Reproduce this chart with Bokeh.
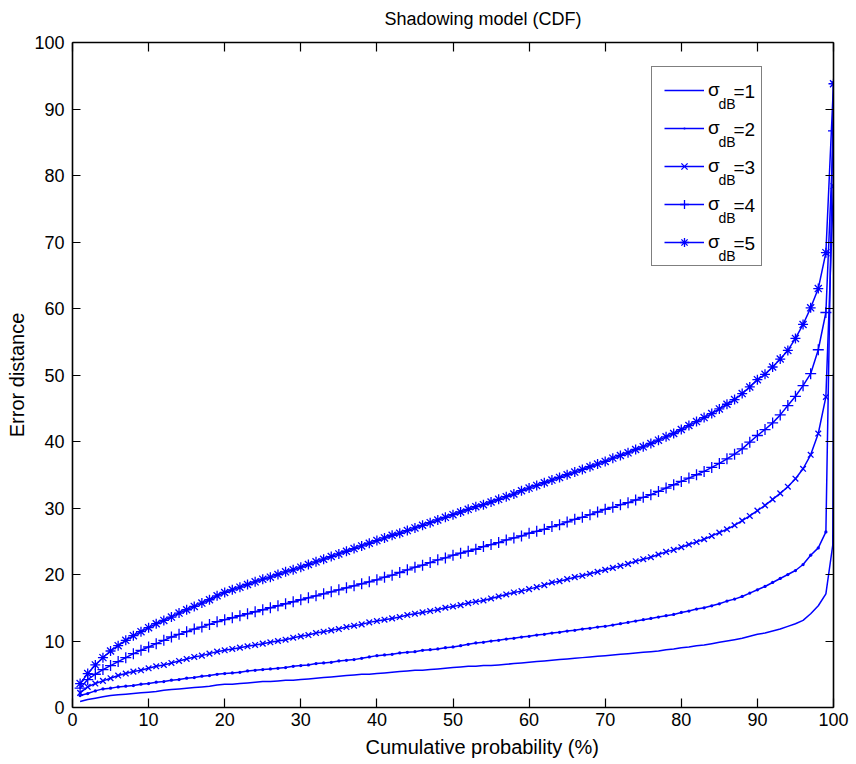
from bokeh.plotting import figure
from bokeh.models import (Range1d, LinearAxis, FixedTicker, Legend, LegendItem,
                          Title, CustomLabelingPolicy, ColumnDataSource)
from bokeh.core.properties import value
from bokeh.embed import file_html
from bokeh.resources import INLINE

# ---------------- data ----------------
cdf_pct = list(range(1, 101))                       # cumulative probability (%)
sigma1_pct = list(range(1, 100)) + [99.9, 100]      # sigma_dB = 1 has one extra point at the top end

err_sigma1 = [0.9, 1.2, 1.4, 1.6, 1.8, 1.9, 2.0, 2.1, 2.2, 2.3,
              2.4, 2.6, 2.7, 2.8, 2.9, 3.0, 3.1, 3.2, 3.4, 3.5,
              3.5, 3.6, 3.7, 3.8, 3.9, 3.9, 4.0, 4.1, 4.1, 4.2,
              4.3, 4.4, 4.5, 4.6, 4.7, 4.8, 4.9, 5.0, 5.0, 5.1,
              5.2, 5.3, 5.4, 5.5, 5.6, 5.6, 5.7, 5.8, 5.9, 6.0,
              6.1, 6.2, 6.2, 6.3, 6.3, 6.4, 6.5, 6.6, 6.7, 6.8,
              6.9, 7.0, 7.1, 7.2, 7.3, 7.4, 7.5, 7.6, 7.7, 7.8,
              7.9, 8.0, 8.1, 8.2, 8.3, 8.4, 8.5, 8.7, 8.8, 9.0,
              9.1, 9.3, 9.4, 9.6, 9.8, 10.0, 10.2, 10.4, 10.7, 11.0,
              11.2, 11.5, 11.8, 12.2, 12.6, 13.1, 14.1, 15.3, 17.1,
              24.4, 50.2]

err_sigma2 = [1.8, 2.1, 2.5, 2.8, 2.9, 3.1, 3.2, 3.3, 3.5, 3.6,
              3.8, 3.9, 4.1, 4.2, 4.4, 4.5, 4.7, 4.8, 5.0, 5.1,
              5.2, 5.3, 5.5, 5.6, 5.7, 5.8, 5.9, 6.0, 6.2, 6.3,
              6.4, 6.6, 6.7, 6.8, 7.0, 7.1, 7.2, 7.4, 7.6, 7.8,
              7.9, 8.0, 8.2, 8.3, 8.4, 8.6, 8.7, 8.8, 9.0, 9.1,
              9.3, 9.5, 9.7, 9.8, 10.0, 10.1, 10.3, 10.4, 10.6, 10.7,
              10.9, 11.0, 11.2, 11.3, 11.5, 11.6, 11.8, 11.9, 12.1, 12.2,
              12.4, 12.6, 12.8, 13.0, 13.2, 13.4, 13.6, 13.8, 14.0, 14.3,
              14.5, 14.8, 15.0, 15.3, 15.6, 16.0, 16.3, 16.7, 17.2, 17.7,
              18.2, 18.8, 19.4, 20.0, 20.6, 21.5, 22.9, 24.0, 26.4, 94.0]

err_sigma3 = [2.2, 3.1, 3.6, 4.0, 4.4, 4.8, 5.1, 5.4, 5.6, 5.9,
              6.2, 6.4, 6.7, 7.0, 7.3, 7.6, 7.8, 8.1, 8.4, 8.6,
              8.8, 9.0, 9.2, 9.4, 9.6, 9.8, 10.0, 10.2, 10.5, 10.7,
              10.9, 11.2, 11.4, 11.6, 11.8, 12.1, 12.3, 12.5, 12.8, 13.0,
              13.2, 13.4, 13.6, 13.9, 14.1, 14.3, 14.5, 14.7, 15.0, 15.2,
              15.4, 15.7, 15.9, 16.1, 16.4, 16.7, 17.0, 17.3, 17.5, 17.8,
              18.1, 18.4, 18.8, 19.0, 19.3, 19.6, 19.8, 20.1, 20.4, 20.7,
              21.0, 21.3, 21.6, 22.0, 22.3, 22.6, 23.0, 23.4, 23.7, 24.1,
              24.5, 24.9, 25.3, 25.8, 26.3, 26.8, 27.4, 28.1, 28.8, 29.6,
              30.4, 31.3, 32.2, 33.2, 34.4, 35.9, 38.0, 41.2, 46.7, 78.4]

err_sigma4 = [2.9, 4.2, 5.0, 5.7, 6.3, 6.9, 7.5, 8.1, 8.6, 9.1,
              9.6, 10.1, 10.6, 11.0, 11.4, 11.8, 12.1, 12.5, 12.9, 13.2,
              13.5, 13.8, 14.1, 14.4, 14.7, 15.0, 15.3, 15.6, 15.9, 16.2,
              16.5, 16.8, 17.1, 17.4, 17.7, 18.0, 18.3, 18.6, 18.9, 19.2,
              19.6, 19.9, 20.3, 20.7, 21.1, 21.4, 21.8, 22.2, 22.5, 22.9,
              23.2, 23.5, 23.8, 24.2, 24.5, 24.8, 25.2, 25.5, 25.8, 26.2,
              26.5, 26.8, 27.2, 27.5, 27.9, 28.3, 28.6, 29.0, 29.4, 29.8,
              30.1, 30.5, 30.8, 31.2, 31.6, 32.0, 32.5, 33.0, 33.5, 34.0,
              34.5, 35.0, 35.5, 36.1, 36.7, 37.4, 38.1, 38.9, 39.9, 40.9,
              41.8, 42.8, 44.0, 45.4, 46.8, 48.4, 50.2, 53.8, 59.4, 86.7]

err_sigma5 = [3.6, 5.1, 6.4, 7.5, 8.5, 9.3, 10.1, 10.8, 11.4, 12.0,
              12.6, 13.1, 13.6, 14.2, 14.7, 15.2, 15.7, 16.2, 16.8, 17.3,
              17.7, 18.1, 18.5, 18.9, 19.3, 19.6, 20.0, 20.4, 20.7, 21.1,
              21.5, 21.9, 22.3, 22.7, 23.1, 23.5, 23.9, 24.3, 24.7, 25.1,
              25.5, 25.9, 26.2, 26.6, 27.0, 27.4, 27.8, 28.2, 28.6, 29.0,
              29.4, 29.8, 30.2, 30.5, 30.9, 31.3, 31.7, 32.1, 32.6, 33.0,
              33.4, 33.8, 34.2, 34.6, 35.0, 35.4, 35.8, 36.2, 36.6, 37.0,
              37.5, 37.9, 38.3, 38.8, 39.2, 39.7, 40.2, 40.7, 41.2, 41.8,
              42.4, 43.0, 43.6, 44.2, 44.9, 45.6, 46.3, 47.2, 48.2, 49.3,
              50.1, 51.2, 52.4, 53.7, 55.5, 57.6, 60.1, 63.0, 68.4, 93.8]

sigma_values = ["1", "2", "3", "4", "5"]
x_ticks = [0, 10, 20, 30, 40, 50, 60, 70, 80, 90, 100]
y_ticks = [0, 10, 20, 30, 40, 50, 60, 70, 80, 90, 100]

# ---------------- styling ----------------
FONT = "Liberation Sans"
BLUE = "#0000ff"
FRAME_W, FRAME_H = 761, 665

p = figure(frame_width=FRAME_W, frame_height=FRAME_H,
           x_range=Range1d(0, 100), y_range=Range1d(0, 100),
           output_backend="svg", toolbar_location=None,
           min_border_left=72, min_border_right=23,
           min_border_top=42, min_border_bottom=57,
           background_fill_color="white", border_fill_color="white")
p.outline_line_color = None
p.grid.visible = False

p.title.text = "Shadowing model (CDF)"
p.title.align = "left"
p.title.offset = 312
p.title.vertical_align = "top"
p.title.text_font = FONT
p.title.text_font_size = "18px"
p.title.text_font_style = "normal"
p.title.text_color = "black"
p.title.standoff = 16

no_labels = CustomLabelingPolicy(code="return new Set()")


def style_axis(ax, ticks, show_labels):
    ax.ticker = FixedTicker(ticks=ticks)
    ax.axis_line_color = "black"
    ax.axis_line_width = 1.6
    ax.major_tick_line_color = "black"
    ax.major_tick_line_width = 1.2
    ax.major_tick_out = 0
    ax.minor_tick_in = 0
    ax.minor_tick_out = 0
    ax.major_label_text_font = FONT
    ax.major_label_text_color = "black"
    if show_labels:
        ax.major_label_text_font_size = "18px"
    else:
        ax.major_label_text_font_size = "1px"
        ax.major_label_standoff = 0
        ax.major_label_policy = no_labels


xa = p.xaxis[0]
style_axis(xa, x_ticks, True)
xa.major_tick_in = 9
xa.major_label_standoff = 5

ya = p.yaxis[0]
style_axis(ya, y_ticks, True)
ya.major_tick_in = 8
ya.major_label_standoff = 8
ya.axis_label = "Error distance"
ya.axis_label_text_font = FONT
ya.axis_label_text_font_size = "20px"
ya.axis_label_text_font_style = "normal"
ya.axis_label_text_color = "black"
ya.axis_label_standoff = 3

top_ax = LinearAxis()
style_axis(top_ax, x_ticks, False)
top_ax.major_tick_in = 9
p.add_layout(top_ax, "above")

right_ax = LinearAxis()
style_axis(right_ax, y_ticks, False)
right_ax.major_tick_in = 8
p.add_layout(right_ax, "right")

xlabel = Title(text="Cumulative probability (%)", align="left", offset=293,
               text_font=FONT, text_font_size="20px", text_font_style="normal",
               text_color="black", standoff=10)
p.add_layout(xlabel, "below")

# ---------------- series ----------------
LW = 1.5
l1 = p.line(sigma1_pct, err_sigma1, line_color=BLUE, line_width=LW)

l2 = p.line(cdf_pct, err_sigma2, line_color=BLUE, line_width=LW)
m2 = p.scatter(cdf_pct, err_sigma2, marker="dot", size=13, line_color=BLUE,
               fill_color=BLUE)

l3 = p.line(cdf_pct, err_sigma3, line_color=BLUE, line_width=LW)
m3 = p.scatter(cdf_pct, err_sigma3, marker="x", size=8, line_color=BLUE,
               line_width=1.3)

l4 = p.line(cdf_pct, err_sigma4, line_color=BLUE, line_width=LW)
m4 = p.scatter(cdf_pct, err_sigma4, marker="cross", size=11, line_color=BLUE,
               line_width=1.3)

l5 = p.line(cdf_pct, err_sigma5, line_color=BLUE, line_width=LW)
m5 = p.scatter(cdf_pct, err_sigma5, marker="asterisk", size=10, line_color=BLUE,
               line_width=1.3)

renderer_sets = [[l1], [l2, m2], [l3, m3], [l4, m4], [l5, m5]]

legend = Legend(items=[LegendItem(label="σ", renderers=rs) for rs in renderer_sets],
                location=(579, 441), orientation="vertical",
                border_line_color="black", border_line_width=1.5,
                background_fill_color="white", background_fill_alpha=0.0,
                label_text_font=FONT, label_text_font_size="19px",
                label_text_color="black",
                glyph_width=40, glyph_height=22, label_height=22,
                label_width=41, label_standoff=4, spacing=16, padding=12,
                margin=0)
p.add_layout(legend)

# subscript "dB" and "=n" parts of the legend texts (sigma_dB = n)
px_x = 100 / FRAME_W
px_y = 100 / FRAME_H
row_mid = [100 - (49 + 38 * i) * px_y for i in range(len(sigma_values))]
sub_src = ColumnDataSource(dict(x=[646 * px_x] * len(sigma_values),
                                y=[m - 12 * px_y for m in row_mid],
                                text=["dB"] * len(sigma_values)))
eq_src = ColumnDataSource(dict(x=[661 * px_x] * len(sigma_values),
                               y=row_mid,
                               text=["=" + s for s in sigma_values]))
p.text(x="x", y="y", text="text", source=sub_src,
       text_font=value(FONT), text_font_size=value("14px"),
       text_color="black", text_baseline="alphabetic", text_align="left")
p.text(x="x", y="y", text="text", source=eq_src,
       text_font=value(FONT), text_font_size=value("19px"),
       text_color="black", text_baseline="middle", text_align="left")

open("out.html", "w").write(file_html(p, INLINE))
